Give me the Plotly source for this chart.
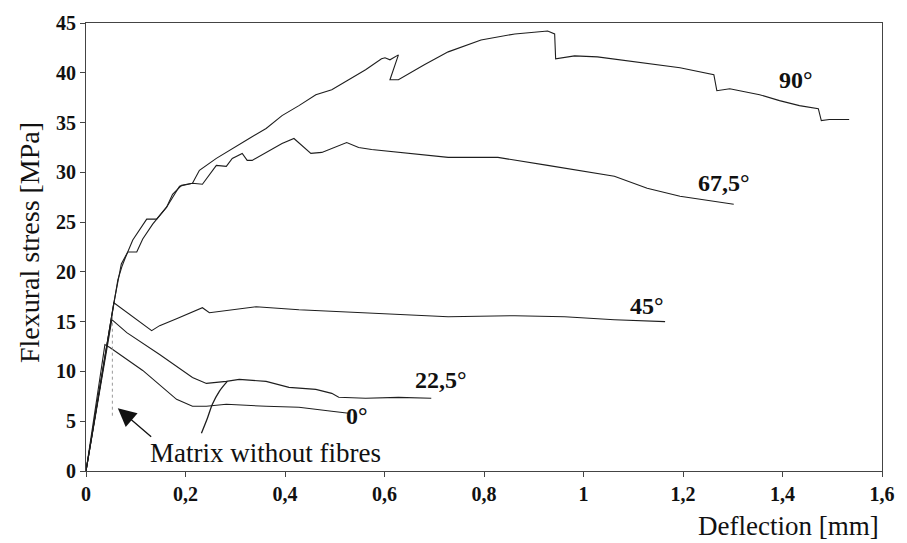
import plotly.graph_objects as go

# ---- data ----
x_90 = [0, 0.056, 0.064, 0.072, 0.078, 0.094, 0.112, 0.122, 0.142, 0.162, 0.174, 0.192, 0.214, 0.228,
        0.262, 0.294, 0.328, 0.362, 0.394, 0.428, 0.462, 0.494, 0.528, 0.562, 0.594, 0.601, 0.611, 0.628,
        0.611, 0.628, 0.680, 0.728, 0.794, 0.862, 0.928, 0.942, 0.944, 0.982, 1.028, 1.074, 1.128, 1.194,
        1.262, 1.268, 1.294, 1.354, 1.394, 1.434, 1.472, 1.478, 1.494, 1.534]
y_90 = [0, 16.9, 19.2, 20.5, 21.3, 23.2, 24.6, 25.3, 25.3, 26.5, 27.8, 28.7, 28.9, 30.2,
        31.4, 32.4, 33.4, 34.4, 35.7, 36.7, 37.8, 38.3, 39.3, 40.3, 41.4, 41.5, 41.3, 41.8,
        39.3, 39.3, 40.8, 42.1, 43.3, 43.9, 44.2, 43.9, 41.4, 41.7, 41.6, 41.3, 40.9, 40.5,
        39.8, 38.2, 38.4, 37.8, 37.2, 36.7, 36.4, 35.2, 35.3, 35.3]

x_675 = [0, 0.056, 0.071, 0.084, 0.102, 0.114, 0.134, 0.162, 0.188, 0.214, 0.234, 0.262, 0.282,
         0.294, 0.314, 0.324, 0.334, 0.362, 0.394, 0.418, 0.434, 0.452, 0.474, 0.494, 0.524,
         0.548, 0.574, 0.728, 0.828, 0.928, 1.062, 1.128, 1.194, 1.302]
y_675 = [0, 16.9, 20.8, 22.0, 22.0, 23.3, 24.8, 26.5, 28.6, 28.9, 28.8, 30.7, 30.6,
         31.4, 31.9, 31.2, 31.2, 32.0, 32.9, 33.4, 32.7, 31.9, 32.0, 32.4, 33.0,
         32.5, 32.3, 31.5, 31.5, 30.7, 29.6, 28.4, 27.6, 26.8]

x_45 = [0, 0.056, 0.132, 0.148, 0.182, 0.234, 0.248, 0.294, 0.342, 0.428, 0.562, 0.728, 0.862,
        0.962, 1.062, 1.164]
y_45 = [0, 16.9, 14.1, 14.6, 15.3, 16.4, 15.9, 16.2, 16.5, 16.2, 15.9, 15.5, 15.6,
        15.5, 15.2, 15.0]

x_225 = [0, 0.052, 0.082, 0.148, 0.214, 0.242, 0.282, 0.308, 0.362, 0.408, 0.462, 0.494,
         0.508, 0.562, 0.628, 0.694]
y_225 = [0, 15.2, 13.9, 11.7, 9.4, 8.8, 9.0, 9.2, 9.0, 8.4, 8.2, 7.8,
         7.4, 7.3, 7.4, 7.3]

x_0 = [0, 0.038, 0.048, 0.114, 0.182, 0.214, 0.242, 0.282, 0.362, 0.428, 0.494, 0.528]
y_0 = [0, 12.7, 12.4, 10.1, 7.2, 6.5, 6.5, 6.7, 6.5, 6.4, 6.0, 5.8]

x_matrix = [0.053, 0.053]
y_matrix = [15.5, 5.3]

# leader line from the "Matrix without fibres" note
x_leader = [0.232, 0.244, 0.254, 0.268, 0.284]
y_leader = [3.8, 5.3, 6.7, 8.0, 9.0]

x_ticks = [0, 0.2, 0.4, 0.6, 0.8, 1.0, 1.2, 1.4, 1.6]
x_ticktext = ["0", "0,2", "0,4", "0,6", "0,8", "1", "1,2", "1,4", "1,6"]
y_ticks = [0, 5, 10, 15, 20, 25, 30, 35, 40, 45]

labels = ["90°", "67,5°", "45°", "22,5°", "0°"]
label_x = [1.428, 1.282, 1.128, 0.714, 0.544]
label_y = [39.3, 28.9, 16.6, 9.1, 5.5]

SERIF = "Liberation Serif, Times New Roman, serif"
LINE = "#1e1e1e"

fig = go.Figure()
for xs, ys in [(x_90, y_90), (x_675, y_675), (x_45, y_45), (x_225, y_225), (x_0, y_0)]:
    fig.add_trace(go.Scatter(x=xs, y=ys, mode="lines",
                             line=dict(color=LINE, width=1.1), hoverinfo="skip"))
fig.add_trace(go.Scatter(x=x_matrix, y=y_matrix, mode="lines",
                         line=dict(color="#9a9a9a", width=1, dash="dot"), hoverinfo="skip"))
fig.add_trace(go.Scatter(x=x_leader, y=y_leader, mode="lines",
                         line=dict(color=LINE, width=1.3, shape="spline"), hoverinfo="skip"))

for t, lx, ly in zip(labels, label_x, label_y):
    fig.add_annotation(x=lx, y=ly, text=t, showarrow=False,
                       font=dict(family=SERIF, size=24, color="#111", weight="bold"))

fig.add_annotation(x=0.36, y=1.8, text="Matrix without fibres", showarrow=False,
                   font=dict(family=SERIF, size=27, color="#111"))
fig.add_annotation(x=0.064, y=6.3, ax=0.134, ay=3.3, axref="x", ayref="y",
                   text="", showarrow=True, arrowhead=2, arrowsize=2.8,
                   arrowwidth=1.3, arrowcolor="#111")

fig.add_annotation(xref="paper", yref="paper", x=0.999, y=-0.123, xanchor="right",
                   yanchor="middle", text="Deflection [mm]", showarrow=False,
                   font=dict(family=SERIF, size=27, color="#111"))
fig.add_annotation(xref="paper", yref="paper", x=-0.071, y=0.51, xanchor="center",
                   yanchor="middle", textangle=-90, text="Flexural stress [MPa]",
                   showarrow=False, font=dict(family=SERIF, size=28, color="#111"))

axis_common = dict(showgrid=False, zeroline=False, showline=True, mirror=True,
                   linecolor="#444", linewidth=1, ticks="outside", ticklen=5,
                   tickcolor="#444", tickwidth=1,
                   tickfont=dict(family=SERIF, size=20, color="#111", weight="bold"))

fig.update_xaxes(range=[0, 1.6], tickvals=x_ticks, ticktext=x_ticktext, **axis_common)
fig.update_yaxes(range=[0, 45], tickvals=y_ticks, **axis_common)

fig.update_layout(width=907, height=543, margin=dict(l=86, r=20, t=16, b=72),
                  paper_bgcolor="white", plot_bgcolor="white", showlegend=False)

fig.write_html("out.html")
